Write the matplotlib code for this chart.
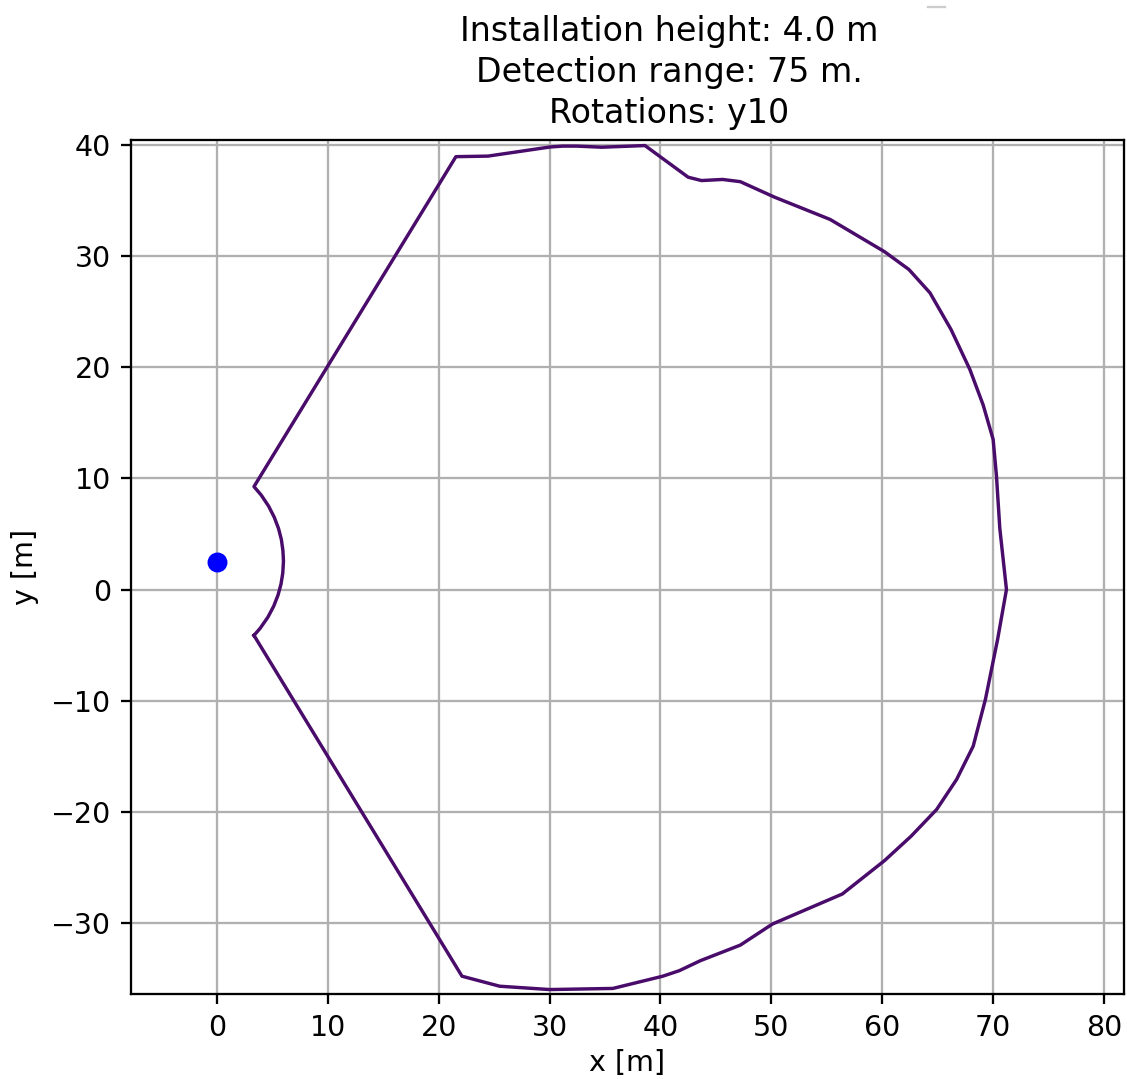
"""Ground footprint of a sensor detection area (top view)."""

import matplotlib

matplotlib.use("Agg")
import matplotlib.pyplot as plt
from matplotlib.lines import Line2D
import numpy as np

DPI = 205

# sensor position
sensor_x = [0.0]
sensor_y = [2.5]

# footprint outline (closed polygon)
outline_x = [
    3.34, 3.89, 4.59, 5.12, 5.51, 5.78, 5.94, 6.00, 5.95, 5.81, 5.55, 5.17, 4.66, 3.99, 3.34,
    21.55, 24.44, 30.03, 31.2, 32.46, 34.7, 38.6,
    42.5, 43.7, 45.6, 47.2, 50.3, 55.3, 60.2, 62.4, 64.3, 66.2, 67.9, 69.1, 70.0, 70.3,
    70.6, 71.2, 70.4, 69.3, 68.2, 66.7, 64.9, 62.6, 60.2, 56.4, 50.1, 47.2, 43.6, 41.7,
    40.2, 35.7, 30.0, 25.5, 22.1, 3.34,
]
outline_y = [
    -4.13, -3.5, -2.5, -1.5, -0.5, 0.5, 1.5, 2.56, 3.5, 4.5, 5.5, 6.5, 7.5, 8.5, 9.26,
    38.95, 39.0, 39.82, 39.9, 39.9, 39.8, 39.95,
    37.1, 36.8, 36.9, 36.7, 35.3, 33.3, 30.4, 28.8, 26.7, 23.4, 19.8, 16.6, 13.5, 10.2,
    5.5, 0.0, -4.5, -9.9, -14.1, -17.1, -19.8, -22.2, -24.4, -27.4, -30.1, -32.0, -33.4, -34.3,
    -34.8, -35.9, -36.0, -35.7, -34.8, -4.13,
]

title_lines = ["Installation height: 4.0 m", "Detection range: 75 m.", "Rotations: y10"]


def main() -> None:
    fig = plt.figure(figsize=(1127 / DPI, 1079 / DPI), dpi=DPI)
    ax = fig.add_axes([131 / 1127, 1 - 994 / 1079, 993 / 1127, 854 / 1079])

    ax.plot(outline_x, outline_y, color="#4a0c6b", linewidth=1.2)
    ax.plot(sensor_x, sensor_y, "o", color="blue", markersize=6)

    ax.set_xlim(-7.75, 81.8)
    ax.set_ylim(-36.4, 40.45)
    ax.set_xticks(np.arange(0, 81, 10))
    ax.set_yticks(np.arange(-30, 41, 10))
    ax.grid(True)
    ax.set_xlabel("x [m]", labelpad=2.5)
    ax.set_ylabel("y [m]")
    ax.set_title("\n".join(title_lines), x=(669 - 131) / 993, fontsize=11.7, linespacing=1.3)

    # faint leftover mark at the top right of the figure
    fig.add_artist(Line2D([928 / 1127, 945 / 1127], [1 - 7 / 1079, 1 - 7 / 1079],
                          color="#cccccc", linewidth=0.8, transform=fig.transFigure))

    fig.savefig("out.png", dpi=DPI)


if __name__ == "__main__":
    main()
